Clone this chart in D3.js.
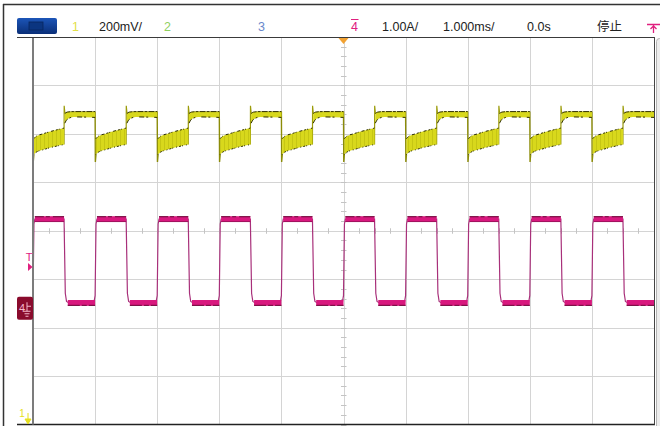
<!DOCTYPE html>
<html>
<head>
<meta charset="utf-8">
<script src="https://cdn.jsdelivr.net/npm/d3@7"></script>
<style>
  html, body { margin: 0; padding: 0; background: #fff; }
  svg { display: block; }
</style>
</head>
<body>
<div id="scope"></div>
<script>
// time base 1.000 ms/div, 10 divisions, trigger at 0.0s
const timeDomainMs = [-5, 5];
const vertDomainDiv = [-4, 4];

// channel 4 (current probe) edges
const ch4RiseMs = [-5, -4, -3, -2, -1, 0, 1, 2, 3, 4];
const ch4FallMs = [-4.5, -3.5, -2.5, -1.5, -0.5, 0.5, 1.5, 2.5, 3.5, 4.5];

// channel 4 levels in divisions: [top, bottom] of the trace band
const ch4HighDiv = [0.30, 0.18];
const ch4LowDiv = [-1.43, -1.55];
const ch4GroundDiv = -1.60;
const triggerLevelDiv = -0.75;

// channel 1 band shape, sampled at fractions of each half period
const ch1Frac = [0, 0.08, 0.3, 1];
const ch1LowTopDiv = [1.90, 1.95, 2.00, 2.12];
const ch1LowBottomDiv = [1.57, 1.62, 1.67, 1.78];
const ch1HighTopDiv = [2.42, 2.45, 2.46, 2.46];
const ch1HighBottomDiv = [2.22, 2.30, 2.35, 2.34];
const ch1SpikeDiv = [2.58, 1.42]; // overshoot at rising / falling edge

// header readouts
const headerLabels = ["1", "200mV/", "2", "3", "4", "1.00A/", "1.000ms/", "0.0s", "停止"];
const headerColors = ["#e2e04a", "#222", "#8fd060", "#6a88cc", "#e0207f", "#222", "#222", "#222", "#222"];
const headerX = [72, 99, 164, 258, 351, 382, 443, 527, 597];

const width = 660, height = 426;
const plot = { left: 33, right: 654, top: 37, bottom: 424.5 };

const svg = d3.select("#scope").append("svg")
  .attr("width", width)
  .attr("height", height)
  .style("font-family", "'Liberation Sans', Arial, sans-serif");

const x = d3.scaleLinear().domain(timeDomainMs).range([plot.left, plot.right]);
const y = d3.scaleLinear().domain(vertDomainDiv).range([plot.bottom, plot.top]);

const defs = svg.append("defs");
defs.append("clipPath").attr("id", "clip")
  .append("rect")
  .attr("x", plot.left).attr("y", plot.top)
  .attr("width", plot.right - plot.left).attr("height", plot.bottom - plot.top);

const hatch = defs.append("pattern").attr("id", "hatch")
  .attr("patternUnits", "userSpaceOnUse")
  .attr("width", 4).attr("height", 6);
hatch.append("rect").attr("width", 4).attr("height", 6).attr("fill", "#d8d81c");
hatch.append("rect").attr("width", 1).attr("height", 6).attr("fill", "#c6c614");

const blue = defs.append("linearGradient").attr("id", "blue")
  .attr("x1", 0).attr("y1", 0).attr("x2", 0).attr("y2", 1);
blue.append("stop").attr("offset", "0%").attr("stop-color", "#1c55b8");
blue.append("stop").attr("offset", "100%").attr("stop-color", "#0a2f78");

// outer frame
svg.append("line").attr("x1", 3).attr("x2", width).attr("y1", 4.5).attr("y2", 4.5)
  .attr("stroke", "#333").attr("stroke-width", 1.5);
svg.append("line").attr("x1", 3.5).attr("x2", 3.5).attr("y1", 4).attr("y2", height)
  .attr("stroke", "#333").attr("stroke-width", 1.5);

// header
svg.append("rect").attr("x", 17).attr("y", 18).attr("width", 40).attr("height", 16)
  .attr("rx", 2).attr("fill", "url(#blue)");
svg.append("rect").attr("x", 29).attr("y", 22).attr("width", 14).attr("height", 8)
  .attr("fill", "#0b3580").attr("stroke", "#08265e").attr("stroke-width", 0.8);

svg.selectAll(".hdr")
  .data(headerLabels)
  .enter()
  .append("text")
    .attr("class", "hdr")
    .attr("x", (d, i) => headerX[i])
    .attr("y", 31)
    .attr("font-size", "12.5px")
    .attr("fill", (d, i) => headerColors[i])
    .style("font-family", d => /[^\x00-\x7f]/.test(d) ? "'Noto Sans CJK SC', sans-serif" : null)
    .text(d => d);

// overline on channel 4 label
svg.append("line").attr("x1", 351).attr("x2", 358.5).attr("y1", 19.5).attr("y2", 19.5)
  .attr("stroke", "#e0207f").attr("stroke-width", 1);

// trigger type icon, top right (cut by the window)
svg.append("path")
  .attr("d", "M647,24.5 H660 M653.5,24.5 V33 M650.5,29 L653.5,26 L656.5,29")
  .attr("fill", "none").attr("stroke", "#e0207f").attr("stroke-width", 1.3);

// grid
const g = svg.append("g");
g.selectAll(".vgrid")
  .data(d3.range(-4, 5))
  .enter().append("line")
    .attr("x1", d => Math.round(x(d)) + 0.5).attr("x2", d => Math.round(x(d)) + 0.5)
    .attr("y1", plot.top).attr("y2", plot.bottom)
    .attr("stroke", "#d4d4d4");
g.selectAll(".hgrid")
  .data(d3.range(-3, 4))
  .enter().append("line")
    .attr("x1", plot.left).attr("x2", plot.right)
    .attr("y1", d => Math.round(y(d)) + 0.5).attr("y2", d => Math.round(y(d)) + 0.5)
    .attr("stroke", "#d4d4d4");

// minor ticks on the centre lines
g.selectAll(".vtick")
  .data(d3.range(-4, 4.001, 0.2))
  .enter().append("line")
    .attr("x1", x(0) - 2.5).attr("x2", x(0) + 3)
    .attr("y1", d => Math.round(y(d)) + 0.5).attr("y2", d => Math.round(y(d)) + 0.5)
    .attr("stroke", "#c4c4c4");
g.selectAll(".htick")
  .data(d3.range(-5, 5.001, 0.25))
  .enter().append("line")
    .attr("x1", d => Math.round(x(d)) + 0.5).attr("x2", d => Math.round(x(d)) + 0.5)
    .attr("y1", y(0) - 2.5).attr("y2", y(0) + 3)
    .attr("stroke", "#c4c4c4");

// traces
const tr = svg.append("g").attr("clip-path", "url(#clip)");
const line = d3.line().x(d => x(d[0])).y(d => y(d[1]));
const mid = a => (a[0] + a[1]) / 2;
const nextRise = i => (i + 1 < ch4RiseMs.length ? ch4RiseMs[i + 1] : timeDomainMs[1]);

// channel 1: noisy band, low while ch4 is high
const ch1Segments = [];
ch4RiseMs.forEach((t0, i) => {
  ch1Segments.push({ t0: t0, t1: ch4FallMs[i], top: ch1LowTopDiv, bottom: ch1LowBottomDiv, low: true });
  ch1Segments.push({ t0: ch4FallMs[i], t1: nextRise(i), top: ch1HighTopDiv, bottom: ch1HighBottomDiv, low: false });
});

const ch1Area = d3.area()
  .x(d => x(d.t)).y0(d => y(d.b)).y1(d => y(d.u))
  .curve(d3.curveMonotoneX);
const segPts = s => ch1Frac.map((f, k) => ({
  t: s.t0 + 0.012 + f * (s.t1 - s.t0 - 0.012),
  u: s.top[k], b: s.bottom[k]
}));

// edges of channel 1
ch4RiseMs.forEach((t0, i) => {
  // falling edge of ch1 with undershoot
  tr.append("path")
    .attr("d", line([[t0, ch1HighTopDiv[3]], [t0 + 0.004, ch1SpikeDiv[1]], [t0 + 0.014, ch1LowBottomDiv[0]]]))
    .attr("fill", "none").attr("stroke", "#8c8c08").attr("stroke-width", 1.4);
  // rising edge of ch1 with overshoot
  const t1 = ch4FallMs[i];
  tr.append("path")
    .attr("d", line([[t1, ch1LowBottomDiv[3]], [t1 + 0.002, ch1SpikeDiv[0]], [t1 + 0.014, ch1HighTopDiv[0]]]))
    .attr("fill", "none").attr("stroke", "#9c9c0a").attr("stroke-width", 1.2);
});

ch1Segments.forEach(s => {
  const pts = segPts(s);
  tr.append("path")
    .attr("d", ch1Area(pts))
    .attr("fill", s.low ? "url(#hatch)" : "#d8d81c");
  tr.append("path")
    .attr("d", d3.line().x(d => x(d.t)).y(d => y(d.u)).curve(d3.curveMonotoneX)(pts))
    .attr("fill", "none").attr("stroke", "#2e2e00").attr("stroke-width", 1)
    .attr("stroke-dasharray", s.low ? "2,1,1,3,3,2" : "6,1,3,1");
  tr.append("path")
    .attr("d", d3.line().x(d => x(d.t)).y(d => y(d.b)).curve(d3.curveMonotoneX)(pts))
    .attr("fill", "none").attr("stroke", "#2e2e00").attr("stroke-width", 1)
    .attr("stroke-dasharray", s.low ? "1,2,2,1,1,3" : "5,2,2,6");
});

// channel 4: square wave
const hiMid = mid(ch4HighDiv), loMid = mid(ch4LowDiv);
const ch4Pts = [];
ch4RiseMs.forEach((t0, i) => {
  const t1 = ch4FallMs[i];
  ch4Pts.push([t0 - 0.02, loMid], [t0, loMid + 0.15], [t0 + 0.015, hiMid - 0.1], [t0 + 0.03, hiMid]);
  ch4Pts.push([t1, hiMid], [t1 + 0.02, loMid + 0.2], [t1 + 0.04, loMid + 0.03], [t1 + 0.08, loMid]);
});
ch4Pts.push([timeDomainMs[1], loMid]);
tr.append("path")
  .attr("d", line(ch4Pts))
  .attr("fill", "none").attr("stroke", "#a8307a").attr("stroke-width", 1.2);

ch4RiseMs.forEach((t0, i) => {
  const t1 = ch4FallMs[i];
  const t2 = nextRise(i);
  // high band
  tr.append("rect")
    .attr("x", x(t0 + 0.03)).attr("width", x(t1) - x(t0 + 0.03))
    .attr("y", y(ch4HighDiv[0])).attr("height", y(ch4HighDiv[1]) - y(ch4HighDiv[0]))
    .attr("fill", "#d8187e");
  tr.append("line")
    .attr("x1", x(t0 + 0.03)).attr("x2", x(t1))
    .attr("y1", y(ch4HighDiv[0]) + 0.5).attr("y2", y(ch4HighDiv[0]) + 0.5)
    .attr("stroke", "#6a0a38").attr("stroke-dasharray", "9,2,4,3,14,2");
  tr.append("line")
    .attr("x1", x(t0 + 0.03)).attr("x2", x(t1))
    .attr("y1", y(ch4HighDiv[1]) - 0.5).attr("y2", y(ch4HighDiv[1]) - 0.5)
    .attr("stroke", "#a0145e");
  // low band
  tr.append("rect")
    .attr("x", x(t1 + 0.06)).attr("width", Math.max(0, x(t2) - x(t1 + 0.06)))
    .attr("y", y(ch4LowDiv[0])).attr("height", y(ch4LowDiv[1]) - y(ch4LowDiv[0]))
    .attr("fill", "#d8187e");
  tr.append("line")
    .attr("x1", x(t1 + 0.06)).attr("x2", x(t2))
    .attr("y1", y(ch4LowDiv[1]) - 0.5).attr("y2", y(ch4LowDiv[1]) - 0.5)
    .attr("stroke", "#6a0a38").attr("stroke-dasharray", "12,2,5,2");
});

// plot borders
svg.append("line").attr("x1", 17).attr("x2", plot.right).attr("y1", plot.top + 0.5).attr("y2", plot.top + 0.5)
  .attr("stroke", "#3a3a3a");
svg.append("line").attr("x1", 17).attr("x2", plot.right + 1).attr("y1", plot.bottom).attr("y2", plot.bottom)
  .attr("stroke", "#222").attr("stroke-width", 1.5);
svg.append("line").attr("x1", plot.right + 0.5).attr("x2", plot.right + 0.5).attr("y1", plot.top).attr("y2", plot.bottom)
  .attr("stroke", "#444");
svg.append("line").attr("x1", plot.left).attr("x2", plot.left).attr("y1", plot.top + 1).attr("y2", plot.bottom)
  .attr("stroke", "#7c7c7c").attr("stroke-width", 2);

// side panel edge on the right
svg.append("rect").attr("x", 656.5).attr("y", plot.top + 1.5).attr("width", 8).attr("height", height)
  .attr("rx", 3).attr("fill", "#ececec").attr("stroke", "#b4b4b4");

// trigger position marker
svg.append("path")
  .attr("d", `M${x(0) - 5},${plot.top + 1} L${x(0) + 5},${plot.top + 1} L${x(0)},${plot.top + 7} Z`)
  .attr("fill", "#f2a232");

// trigger level marker
const yt = y(triggerLevelDiv);
svg.append("text").attr("x", 29).attr("y", yt - 6).attr("text-anchor", "middle")
  .attr("font-size", "11px").attr("fill", "#e0207f").text("T");
svg.append("path")
  .attr("d", `M28,${yt - 4} L28,${yt + 4} L32.5,${yt} Z`)
  .attr("fill", "#e0207f");

// channel 4 ground marker
const yg = y(ch4GroundDiv);
svg.append("rect").attr("x", 17).attr("y", yg - 11.5).attr("width", 16).attr("height", 23)
  .attr("rx", 2).attr("fill", "#8a0b2d");
svg.append("text").attr("x", 19).attr("y", yg + 4).attr("font-size", "11px")
  .attr("fill", "#f4b8cc").text("4");
svg.append("path")
  .attr("d", `M27,${yg - 6} V${yg + 3} M23.5,${yg + 3} H30.5 M24.5,${yg + 5.5} H29.5 M25.5,${yg + 8} H28.5 M27,${yg - 2} H31`)
  .attr("fill", "none").attr("stroke", "#f4b8cc").attr("stroke-width", 1);

// channel 1 offset marker (below the screen)
svg.append("text").attr("x", 22).attr("y", 417).attr("text-anchor", "middle")
  .attr("font-size", "10px").attr("fill", "#e6e020").text("1");
svg.append("path")
  .attr("d", "M28,413 V420 M25,419 L31,419 L28,424 Z")
  .attr("fill", "#e6e020").attr("stroke", "#e6e020").attr("stroke-width", 1);
</script>
</body>
</html>
